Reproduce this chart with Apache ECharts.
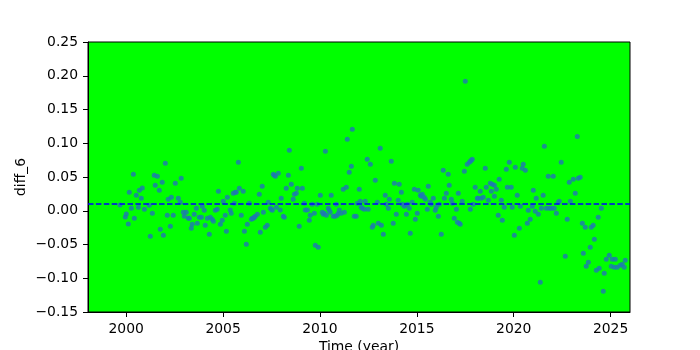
<!DOCTYPE html>
<html>
<head>
<meta charset="utf-8">
<script src="https://cdn.jsdelivr.net/npm/echarts@6/dist/echarts.min.js"></script>
<style>html,body{margin:0;padding:0;background:#fff}#c{width:700px;height:350px}</style>
</head>
<body>
<div id="c"></div>
<script>
const years = [
1999.68,1999.955,2000.007,2000.11,2000.16,2000.265,2000.37,2000.42,2000.52,2000.63,2000.68,2000.78,2000.83,2000.94,
2001.19,2001.245,2001.35,2001.45,2001.50,2001.61,2001.71,2001.76,2001.86,2001.92,
2002.02,2002.12,2002.17,2002.28,2002.33,2002.43,2002.535,2002.69,2002.79,2002.84,2002.95,
2003.00,2003.10,2003.21,2003.26,2003.36,2003.41,2003.51,2003.62,2003.67,2003.77,2003.88,2003.93,
2004.03,2004.08,2004.19,2004.29,2004.34,2004.44,2004.50,2004.60,2004.70,2004.76,2004.86,2004.96,
2005.01,2005.11,2005.17,2005.22,2005.37,2005.42,2005.53,2005.58,2005.63,2005.68,2005.79,2005.84,2005.94,
2006.04,2006.10,2006.20,2006.25,2006.35,2006.46,2006.51,2006.56,2006.61,2006.66,2006.77,2006.87,2006.92,
2007.02,2007.08,2007.18,2007.28,2007.33,2007.44,2007.49,2007.54,2007.59,2007.64,2007.70,2007.75,2007.85,2007.95,
2008.00,2008.11,2008.16,2008.26,2008.37,2008.42,2008.52,2008.62,2008.68,2008.78,2008.83,2008.93,
2009.04,2009.09,2009.19,2009.24,2009.35,2009.45,2009.50,2009.60,2009.71,2009.76,2009.86,2009.91,
2010.02,2010.12,2010.17,2010.22,2010.28,2010.33,2010.43,2010.48,2010.53,2010.58,2010.69,2010.79,2010.84,2010.89,2010.95,
2011.00,2011.10,2011.20,2011.26,2011.36,2011.41,2011.51,2011.62,2011.67,2011.77,2011.87,2011.93,
2012.03,2012.08,2012.13,2012.18,2012.29,2012.34,2012.44,2012.49,2012.60,2012.70,2012.75,2012.855,2012.96,
2013.01,2013.11,2013.17,2013.27,2013.37,2013.42,2013.53,2013.58,2013.68,2013.78,2013.84,2013.94,
2014.04,2014.09,2014.20,2014.25,2014.35,2014.40,2014.46,2014.51,2014.61,2014.66,2014.76,2014.87,2014.92,
2015.02,2015.07,2015.18,2015.23,2015.28,2015.38,2015.44,2015.54,2015.59,2015.69,2015.74,2015.85,2015.95,
2016.00,2016.11,2016.16,2016.26,2016.36,2016.42,2016.52,2016.62,2016.67,2016.78,2016.83,2016.93,
2017.04,2017.09,2017.14,2017.19,2017.24,2017.34,2017.45,2017.50,2017.60,2017.71,2017.76,2017.76,2017.81,2017.86,2017.91,
2018.01,2018.12,2018.17,2018.27,2018.32,2018.43,2018.53,2018.58,2018.69,2018.79,2018.84,2018.89,
2019.00,2019.00,2019.10,2019.20,2019.25,2019.36,2019.41,2019.51,2019.615,2019.67,2019.77,2019.87,2019.92,
2020.03,2020.08,2020.18,2020.29,2020.34,2020.44,2020.49,2020.60,2020.70,2020.75,2020.85,2020.96,
2021.01,2021.11,2021.16,2021.27,2021.37,2021.42,2021.52,2021.58,2021.68,2021.78,2021.83,2021.94,
2022.04,2022.09,2022.20,2022.30,2022.35,2022.45,2022.66,2022.76,2022.866,2022.92,
2023.072,2023.175,2023.28,2023.33,2023.43,2023.54,2023.59,2023.69,2023.74,2023.85,2023.95,
2024.00,2024.10,2024.16,2024.26,2024.36,2024.41,2024.52,2024.62,2024.67,2024.775,2024.93,
2025.03,2025.085,2025.19,2025.24,2025.34,2025.50,2025.60,2025.70,2025.755
];
const values = [
0.0086,-0.0092,-0.0048,-0.0196,0.0273,0.0036,0.054,-0.0112,0.0229,0.0051,0.0303,0.0184,0.0337,0.0021,
0.0081,-0.0379,-0.0038,0.0525,0.0377,0.051,0.0303,-0.0275,0.0421,-0.0364,
0.0703,-0.0068,0.0169,-0.023,0.0199,-0.0068,0.0406,0.0184,0.0125,0.048,-0.0023,
-0.0082,-0.0023,-0.0112,-0.0112,-0.026,-0.0201,-0.0053,0.0036,-0.0186,-0.0097,-0.0097,0.0066,
0.0007,-0.0216,-0.0112,-0.0349,-0.0097,-0.0127,-0.0156,0.0007,0.0021,0.0288,-0.0201,-0.0142,
0.014,-0.0068,-0.0305,0.0199,0.0012,-0.0038,0.0258,0.011,0.0273,0.0273,0.0718,0.0332,-0.0068,
0.0288,-0.0305,-0.0497,-0.0201,0.011,-0.0127,-0.0112,-0.0112,-0.0097,-0.0082,-0.0053,0.0244,-0.032,
0.0362,-0.0023,-0.0245,-0.0216,0.0125,0.0036,0.0021,0.0007,0.054,0.0525,0.051,0.0051,0.0555,0.0012,
0.0184,-0.0082,-0.0097,0.0332,0.0525,0.0895,0.0392,0.0169,0.0244,0.0258,0.0332,-0.023,
0.0629,0.0332,0.011,0.0012,0.0012,-0.0142,-0.0068,0.0095,-0.0038,-0.0512,0.0095,-0.0542,
0.0229,-0.0023,-0.0053,-0.0038,0.088,-0.0068,0.0036,0.0007,-0.0023,0.0229,-0.0082,-0.0082,0.0095,-0.0068,-0.0038,
0.0012,-0.0038,0.0318,-0.0023,0.0347,0.1058,0.057,0.0658,0.1207,-0.0082,-0.0082,0.011,
0.0318,0.014,0.0051,0.0036,0.0021,0.014,0.0762,0.0021,0.0688,-0.0245,-0.0216,0.0451,0.0125,
-0.0186,0.0925,-0.0216,-0.0349,0.0229,0.0095,0.0036,0.0169,0.0732,-0.0186,0.0406,-0.0053,
0.0155,0.0392,0.0273,0.0095,0.0066,0.0081,-0.0053,0.0095,0.0036,-0.0334,0.0125,0.0318,-0.0127,
-0.0038,0.0303,0.0229,0.0214,0.0244,0.0199,0.0169,0.0021,0.0362,0.0125,0.0095,0.0184,0.0007,
0.0051,-0.0082,0.0095,-0.0349,0.0599,0.0184,0.0258,0.054,0.0377,0.0169,0.011,-0.0112,
0.0021,-0.0171,0.0258,-0.0186,-0.0201,0.014,0.0584,0.1918,0.0688,0.0718,0.0732,0.0021,0.0747,0.0762,0.0095,
0.0347,0.0184,0.0184,0.0288,0.0184,0.0199,0.0629,0.0347,0.0155,0.0406,0.0288,0.0392,
0.0377,0.0214,0.0317,-0.0068,0.0466,0.0154,-0.0142,0.0051,0.0614,0.0347,0.0717,0.0347,0.0051,
-0.0364,0.0643,0.0228,-0.026,0.0066,0.0628,0.0688,0.0599,-0.0186,0.0006,-0.0127,0.0066,
0.0303,-0.0008,0.0184,-0.0053,-0.106,0.0036,0.0228,0.0954,0.0036,0.051,0.0036,0.0036,
0.051,0.0036,-0.0038,0.0125,0.014,0.0717,-0.0675,-0.0127,0.0421,0.014,
0.0466,0.0258,0.110,0.048,0.0495,-0.0186,-0.0631,-0.0246,-0.0823,-0.0764,-0.0542,
-0.0246,-0.0216,-0.0423,-0.0883,-0.0097,-0.0853,0.0036,-0.1194,-0.0927,-0.072,-0.066,
-0.0823,-0.072,-0.0838,-0.072,-0.0838,-0.0808,-0.0794,-0.0838,-0.0734
];
const meanLevel = 0.0072;
const xTickValues = [2000, 2005, 2010, 2015, 2020, 2025];
const xRange = [1998.03, 2026.0];
const yRange = [-0.15, 0.25];
const yStep = 0.05;
const xName = 'Time (year)';
const yName = 'diff_6';

const points = years.map((y, i) => [y, values[i]]);
const FONT = 'DejaVu Sans';
const chart = echarts.init(document.getElementById('c'), null, {renderer: 'canvas'});
chart.setOption({
  animation: false,
  backgroundColor: '#ffffff',
  grid: {left: 88, top: 42, width: 542, height: 270, containLabel: false, outerBoundsMode: 'none',
    show: true, backgroundColor: '#00ff00', borderColor: '#000', borderWidth: 1},
  xAxis: {
    type: 'value', min: xRange[0], max: xRange[1],
    name: xName, nameLocation: 'middle', nameGap: 28, nameMoveOverlap: false,
    nameTextStyle: {fontFamily: FONT, fontSize: 13.9, color: '#000', verticalAlign: 'top'},
    axisLine: {show: true, onZero: false, lineStyle: {color: '#000', width: 1}},
    axisTick: {show: true, length: 5, customValues: xTickValues, lineStyle: {color: '#000'}},
    axisLabel: {customValues: xTickValues, margin: 10, fontFamily: FONT, fontSize: 13.9, color: '#000',
      formatter: v => String(v)},
    splitLine: {show: false}
  },
  yAxis: {
    type: 'value', min: yRange[0], max: yRange[1], interval: yStep,
    name: yName, nameLocation: 'middle', nameGap: 60, nameRotate: 90, nameMoveOverlap: false,
    nameTextStyle: {fontFamily: FONT, fontSize: 13.9, color: '#000'},
    axisLine: {show: true, onZero: false, lineStyle: {color: '#000', width: 1}},
    axisTick: {show: true, length: 5, lineStyle: {color: '#000'}},
    axisLabel: {margin: 10, fontFamily: FONT, fontSize: 13.9, color: '#000',
      formatter: v => v.toFixed(2).replace('-', '\u2212')},
    splitLine: {show: false}
  },
  series: [{
    type: 'scatter', data: points, symbol: 'circle', symbolSize: 5,
    itemStyle: {color: '#1f77b4'},
    markLine: {
      silent: true, symbol: ['none', 'none'], label: {show: false},
      lineStyle: {color: '#0000ff', width: 1.5, type: [5.5, 2.4]},
      data: [{yAxis: meanLevel}]
    }
  }]
});
</script>
</body>
</html>
